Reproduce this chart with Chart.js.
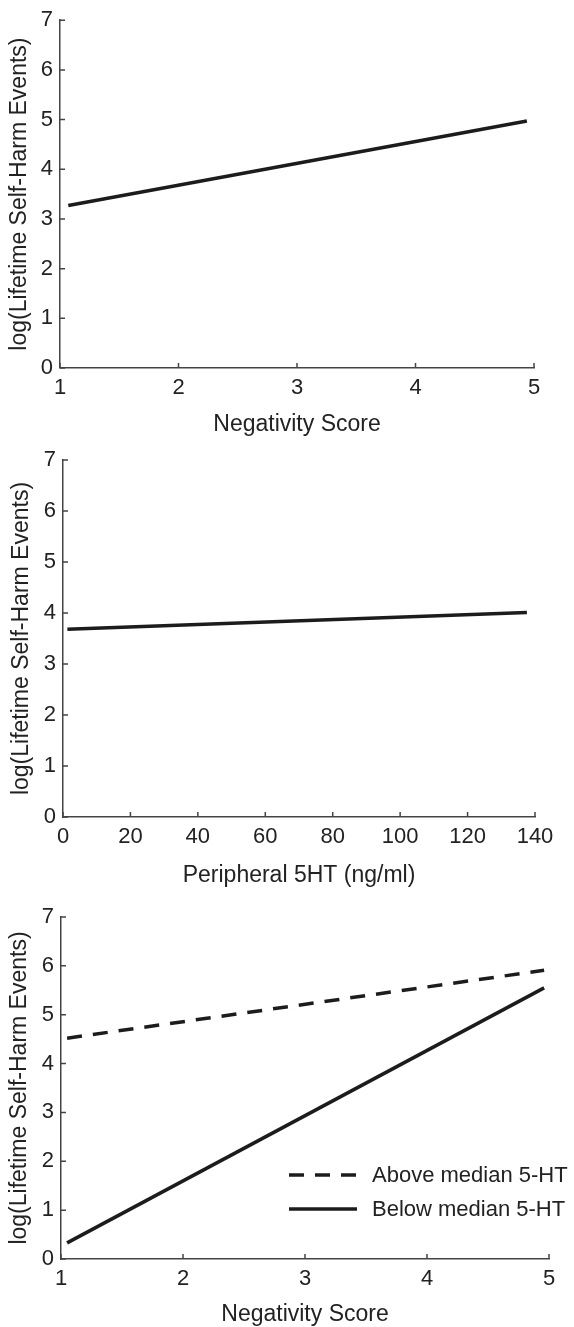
<!DOCTYPE html>
<html>
<head>
<meta charset="utf-8">
<script src="https://cdn.jsdelivr.net/npm/chart.js@4.4.1/dist/chart.umd.min.js"></script>
<style>
  html, body { margin: 0; padding: 0; background: #ffffff; }
  #wrap { position: relative; width: 574px; height: 1327px; }
  #wrap canvas { position: absolute; left: 0; top: 0; }
</style>
</head>
<body>
<div id="wrap">
  <canvas id="c1" width="574" height="1327"></canvas>
  <canvas id="c2" width="574" height="1327"></canvas>
  <canvas id="c3" width="574" height="1327"></canvas>
</div>
<script>
// ---------- data ----------
const yTitle = 'log(Lifetime Self-Harm Events)';
const yTicks = [0, 1, 2, 3, 4, 5, 6, 7];

// Panel 1
const negTicks = [1, 2, 3, 4, 5];
const negScore1 = [1.07, 4.94];
const logEvents1 = [3.27, 4.97];

// Panel 2
const serTicks = [0, 20, 40, 60, 80, 100, 120, 140];
const serotonin = [1.3, 137.6];
const logEvents2 = [3.68, 4.01];

// Panel 3
const negScore3 = [1.05, 4.96];
const aboveMedian = [4.52, 5.91];
const belowMedian = [0.33, 5.55];
const seriesLabels = ['Above median 5-HT', 'Below median 5-HT'];

const xTitles = ['Negativity Score', 'Peripheral 5HT (ng/ml)', 'Negativity Score'];

// ---------- styling ----------
const FONT = '"Liberation Sans", Arial, Helvetica, sans-serif';
const AXIS_COLOR = '#444444';
const TEXT_COLOR = '#222222';
const LINE_COLOR = '#1c1c1c';
Chart.defaults.font.family = FONT;
Chart.defaults.color = TEXT_COLOR;

function pts(xs, ys) { return xs.map((x, i) => ({ x: x, y: ys[i] })); }

// inward tick marks drawn from the library's scales
const innerTicks = {
  id: 'innerTicks',
  afterDraw(chart) {
    const ctx = chart.ctx;
    const xs = chart.scales.x, ys = chart.scales.y;
    const area = chart.chartArea;
    ctx.save();
    ctx.strokeStyle = AXIS_COLOR;
    ctx.lineWidth = 1.5;
    ctx.beginPath();
    xs.ticks.forEach(t => {
      const px = xs.getPixelForValue(t.value);
      ctx.moveTo(px, area.bottom);
      ctx.lineTo(px, area.bottom - 5);
    });
    ys.ticks.forEach(t => {
      const py = ys.getPixelForValue(t.value);
      ctx.moveTo(area.left, py);
      ctx.lineTo(area.left + 5, py);
    });
    ctx.stroke();
    ctx.restore();
  }
};

// legend inside panel 3
const panelLegend = {
  id: 'panelLegend',
  afterDraw(chart, args, opts) {
    if (!opts || !opts.show) return;
    const ctx = chart.ctx;
    ctx.save();
    chart.data.datasets.forEach((ds, i) => {
      const y = opts.y + i * opts.rowGap;
      ctx.strokeStyle = ds.borderColor;
      ctx.lineWidth = ds.borderWidth;
      ctx.lineCap = 'butt';
      ctx.setLineDash(ds.borderDash || []);
      ctx.beginPath();
      ctx.moveTo(opts.x, y);
      ctx.lineTo(opts.x + opts.lineLen, y);
      ctx.stroke();
      ctx.setLineDash([]);
      ctx.fillStyle = TEXT_COLOR;
      ctx.font = '22px ' + FONT;
      ctx.textBaseline = 'middle';
      ctx.textAlign = 'left';
      ctx.fillText(ds.label, opts.x + opts.lineLen + opts.textGap, y + 1);
    });
    ctx.restore();
  }
};

function makePanel(id, cfg) {
  const TITLE_HALF = 11.5;
  const xH = cfg.titleY + TITLE_HALF - cfg.axisY;
  const padBottom = 1327 - (cfg.titleY + TITLE_HALF);
  return new Chart(document.getElementById(id), {
    type: 'line',
    data: { datasets: cfg.datasets },
    plugins: [innerTicks, panelLegend],
    options: {
      responsive: false,
      animation: false,
      devicePixelRatio: 1,
      layout: { padding: { top: cfg.top, right: 574 - cfg.right, bottom: padBottom, left: 0 } },
      plugins: {
        legend: { display: false },
        tooltip: { enabled: false },
        panelLegend: cfg.legend || { show: false }
      },
      elements: { point: { radius: 0 }, line: { tension: 0 } },
      scales: {
        x: {
          type: 'linear',
          min: cfg.xTicks[0], max: cfg.xTicks[cfg.xTicks.length - 1],
          afterBuildTicks: s => { s.ticks = cfg.xTicks.map(v => ({ value: v })); },
          afterFit: s => { s.height = xH; },
          grid: { display: false, drawTicks: false },
          border: { display: true, color: AXIS_COLOR, width: 1.5 },
          ticks: { padding: 7, font: { size: 22 }, color: TEXT_COLOR, maxRotation: 0, autoSkip: false },
          title: { display: true, text: cfg.xTitle, font: { size: 23, lineHeight: 1 }, padding: { top: 0, bottom: 0 }, color: TEXT_COLOR }
        },
        y: {
          type: 'linear',
          min: 0, max: 7,
          afterBuildTicks: s => { s.ticks = yTicks.map(v => ({ value: v })); },
          afterFit: s => { s.width = cfg.left; },
          grid: { display: false, drawTicks: false },
          border: { display: true, color: AXIS_COLOR, width: 1.5 },
          ticks: { padding: 7, font: { size: 22 }, color: TEXT_COLOR, autoSkip: false },
          title: { display: true, text: yTitle, font: { size: 23, lineHeight: 1 }, padding: { top: cfg.yTitleX - 11.5, bottom: 0 }, color: TEXT_COLOR }
        }
      }
    }
  });
}

makePanel('c1', {
  top: 17, axisY: 368, left: 60, right: 534, titleY: 425, yTitleX: 20,
  xTicks: negTicks, xTitle: xTitles[0],
  datasets: [{ label: 'fit', data: pts(negScore1, logEvents1), borderColor: LINE_COLOR, borderWidth: 3.5, borderCapStyle: 'butt' }]
});

makePanel('c2', {
  top: 460, axisY: 817, left: 63, right: 535, titleY: 876, yTitleX: 22,
  xTicks: serTicks, xTitle: xTitles[1],
  datasets: [{ label: 'fit', data: pts(serotonin, logEvents2), borderColor: LINE_COLOR, borderWidth: 3.5, borderCapStyle: 'butt' }]
});

makePanel('c3', {
  top: 917, axisY: 1259, left: 61, right: 549, titleY: 1315, yTitleX: 20,
  xTicks: negTicks, xTitle: xTitles[2],
  legend: { show: true, x: 289, y: 1175, rowGap: 34, lineLen: 68, textGap: 15 },
  datasets: [
    { label: seriesLabels[0], data: pts(negScore3, aboveMedian), borderColor: LINE_COLOR, borderWidth: 3.5, borderDash: [15, 11], borderCapStyle: 'butt' },
    { label: seriesLabels[1], data: pts(negScore3, belowMedian), borderColor: LINE_COLOR, borderWidth: 3.5, borderCapStyle: 'butt' }
  ]
});
</script>
</body>
</html>
